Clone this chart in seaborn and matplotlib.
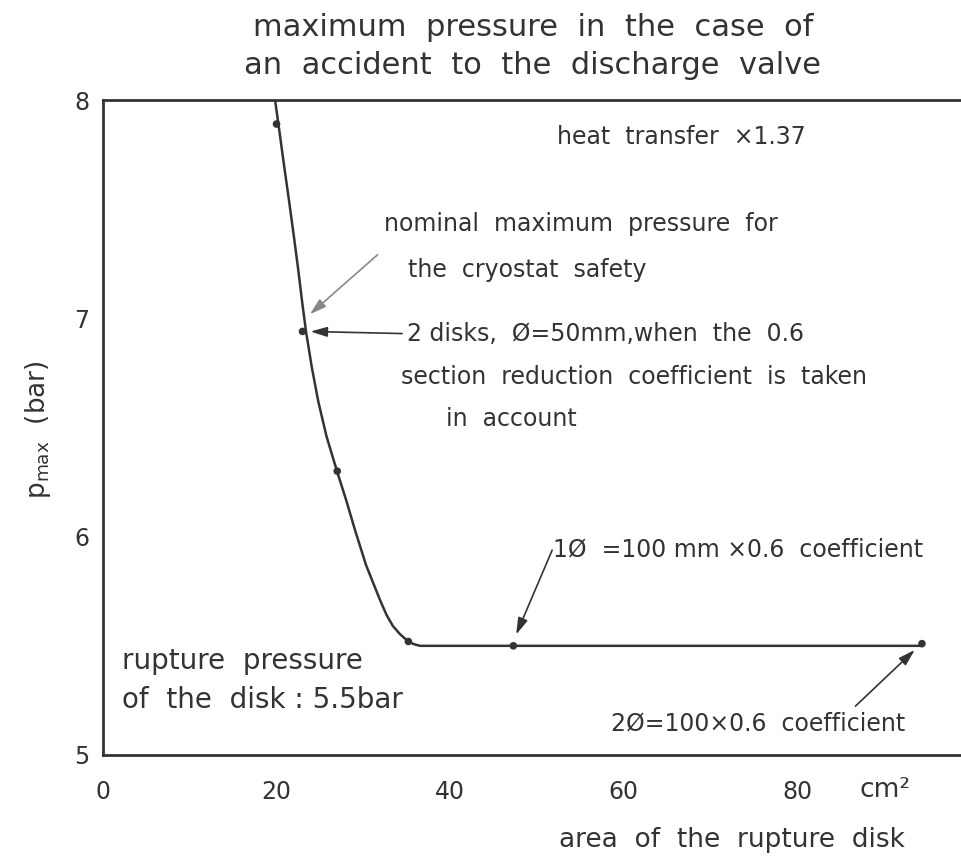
import matplotlib
matplotlib.use("Agg")
import matplotlib.pyplot as plt
import seaborn as sns
import pandas as pd

# measured points: rupture-disk area (cm²) vs maximum pressure (bar)
area_pts = [20.0, 23.0, 27.0, 35.2, 47.3, 94.4]
pmax_pts = [7.89, 6.94, 6.30, 5.52, 5.50, 5.51]

# hand-drawn trend curve through the points
curve_area = [19.83, 20.29, 20.87, 21.44, 22.02, 22.48, 22.94, 23.40, 24.05, 24.81,
              25.76, 26.97, 28.01, 29.05, 30.32, 31.93, 32.70, 33.43, 34.20, 35.04,
              35.80, 36.54, 94.4]
curve_pmax = [8.00, 7.87, 7.70, 7.54, 7.37, 7.23, 7.08, 6.94, 6.78, 6.62,
              6.46, 6.30, 6.17, 6.03, 5.87, 5.71, 5.64, 5.59, 5.555, 5.525,
              5.508, 5.50, 5.50]

x_ticks = [0, 20, 40, 60, 80]
y_ticks = [5, 6, 7, 8]

sns.set_style("white")
plt.rcParams["font.family"] = ["DejaVu Sans"]
plt.rcParams["mathtext.default"] = "regular"

ink = "#333333"
fig = plt.figure(figsize=(9.61, 8.59), dpi=100)
ax = fig.add_axes([103 / 961, 1 - 755 / 859, 1 - 103 / 961, (755 - 100) / 859])

curve = pd.DataFrame({"area": curve_area, "pmax": curve_pmax})
pts = pd.DataFrame({"area": area_pts, "pmax": pmax_pts})
sns.lineplot(data=curve, x="area", y="pmax", sort=False, color="#333333",
             linewidth=1.8, ax=ax, solid_joinstyle="round")
sns.scatterplot(data=pts, x="area", y="pmax", color="#333333", s=30,
                edgecolor="none", ax=ax, zorder=3)

ax.set_xlim(0, 98.9)
ax.set_ylim(5, 8)
ax.set_xticks(x_ticks)
ax.set_yticks(y_ticks)
ax.set_yticks([5.5, 6.5, 7.5], minor=True)
ax.set_xlabel("")
ax.set_ylabel("")
for s in ["left", "bottom", "top"]:
    ax.spines[s].set_color("#333333")
    ax.spines[s].set_linewidth(2.0)
ax.spines["right"].set_visible(False)
ax.tick_params(axis="both", which="both", direction="in", length=7, width=1.5,
               color="#333333", labelcolor=ink, labelsize=17)
ax.tick_params(axis="x", pad=18)
ax.tick_params(axis="y", pad=10)

txt = dict(color=ink, fontsize=17, va="center", ha="left")
ax.text(52.3, 7.83, "heat  transfer  ×1.37", **txt)
ax.text(32.4, 7.43, "nominal  maximum  pressure  for", **txt)
ax.text(35.1, 7.22, "the  cryostat  safety", **txt)
ax.text(35.0, 6.93, "2 disks,  Ø=50mm,when  the  0.6", **txt)
ax.text(34.4, 6.73, "section  reduction  coefficient  is  taken", **txt)
ax.text(39.5, 6.54, "in  account", **txt)
ax.text(51.9, 5.94, "1Ø  =100 mm ×0.6  coefficient", **txt)
ax.text(58.6, 5.145, "2Ø=100×0.6  coefficient", **txt)
big = dict(color=ink, fontsize=20, va="center", ha="left")
ax.text(2.2, 5.43, "rupture  pressure", **big)
ax.text(2.2, 5.25, "of  the  disk : 5.5bar", **big)

arrow = dict(arrowstyle="-|>,head_length=1.0,head_width=0.3", color="#333333", lw=1.2)
ax.annotate("", xy=(23.6, 7.01), xytext=(31.9, 7.30),
            arrowprops=dict(arrow, color="#888888"))
ax.annotate("", xy=(23.6, 6.94), xytext=(34.8, 6.93), arrowprops=arrow)
ax.annotate("", xy=(47.5, 5.54), xytext=(51.9, 5.95), arrowprops=arrow)
ax.annotate("", xy=(93.8, 5.49), xytext=(86.5, 5.215), arrowprops=arrow)

fig.text(533 / 961, 1 - 27 / 859, "maximum  pressure  in  the  case  of", color=ink,
         fontsize=22, ha="center", va="center")
fig.text(533 / 961, 1 - 65 / 859, "an  accident  to  the  discharge  valve", color=ink,
         fontsize=22, ha="center", va="center")
fig.text(885 / 961, 1 - 790 / 859, "cm²", color=ink, fontsize=19, ha="center", va="center")
fig.text(732 / 961, 1 - 840 / 859, "area  of  the  rupture  disk", color=ink, fontsize=19,
         ha="center", va="center")
fig.text(38 / 961, 1 - 430 / 859, "p$_{max}$  (bar)", color=ink, fontsize=19,
         ha="center", va="center", rotation=90)

fig.savefig("out.png", dpi=100, facecolor="white")
